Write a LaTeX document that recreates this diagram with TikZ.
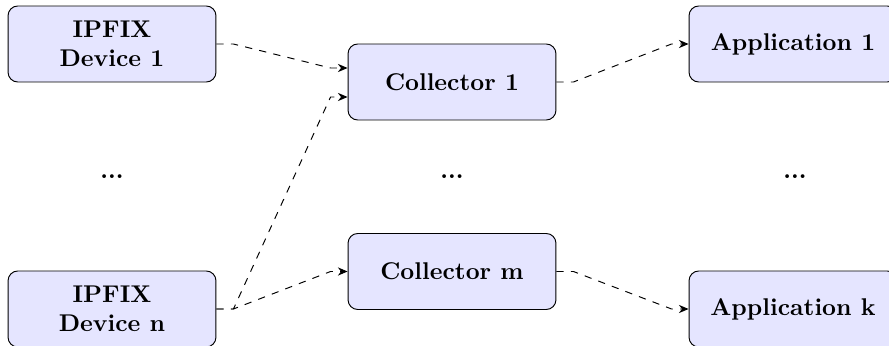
\documentclass[tikz,border=0pt]{standalone}
\usetikzlibrary{calc,arrows.meta}
\tikzset{
  box/.style={draw, rounded corners=4pt, fill=blue!10, font=\bfseries,
    align=center, minimum width=85.9pt, minimum height=31.4pt, inner sep=0pt},
  flow/.style={dashed, -{Stealth[length=4pt,width=3.4pt]}},
  gap/.style={font=\bfseries}
}
\begin{document}
\begin{tikzpicture}[x=0.4132pt, y=-0.4132pt]
  \useasboundingbox (0,0) rectangle (889,346);
  \begin{scope}
    \clip (0,0) rectangle (889,346);
    % exporters
    \node[box] (dev1) at (112,44)  {IPFIX\\Device 1};
    \node[box] (devn) at (112,309) {IPFIX\\Device n};
    % collectors
    \node[box] (col1) at (452,82)    {Collector 1};
    \node[box] (colm) at (452,271.5) {Collector m};
    % applications
    \node[box] (app1) at (793,44)  {Application 1};
    \node[box] (appk) at (793,309) {Application k};
    % elided rows
    \node[gap] (dotsd) at (112,177) {...};
    \node[gap] (dotsc) at (452,177) {...};
    \node[gap] (dotsa) at (795,177) {...};
    % flows
    \coordinate (c1a) at ($(col1.west)+(0,-14)$);
    \coordinate (c1b) at ($(col1.west)+(0,15)$);
    \draw[flow] (dev1.east) -- ++(17,0) -- ($(c1a)+(-17,0)$) -- (c1a);
    \draw[flow] (devn.east) -- ++(17,0) -- ($(c1b)+(-17,0)$) -- (c1b);
    \draw[flow] (devn.east) -- ++(17,0) -- ($(colm.west)+(-17,0)$) -- (colm.west);
    \draw[flow] (col1.east) -- ++(17,0) -- ($(app1.west)+(-17,0)$) -- (app1.west);
    \draw[flow] (colm.east) -- ++(17,0) -- ($(appk.west)+(-17,0)$) -- (appk.west);
  \end{scope}
\end{tikzpicture}
\end{document}
